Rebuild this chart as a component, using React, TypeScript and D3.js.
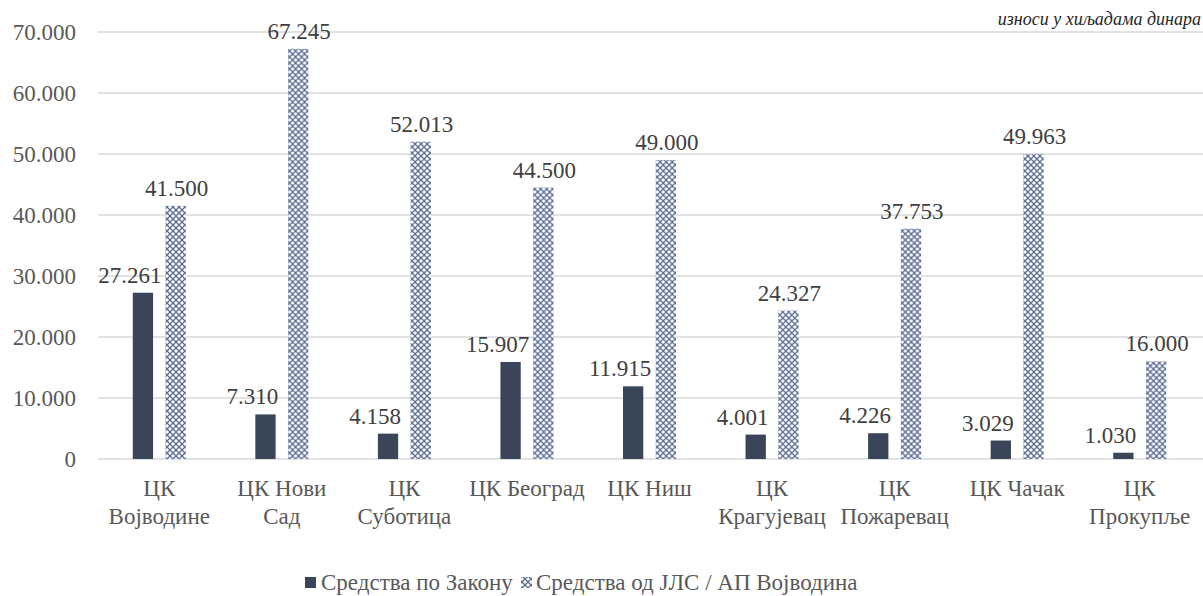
import React, { useRef, useEffect } from 'react';
import * as d3 from 'd3';

const categories = [
  ['ЦК', 'Војводине'],
  ['ЦК Нови', 'Сад'],
  ['ЦК', 'Суботица'],
  ['ЦК Београд'],
  ['ЦК Ниш'],
  ['ЦК', 'Крагујевац'],
  ['ЦК', 'Пожаревац'],
  ['ЦК Чачак'],
  ['ЦК', 'Прокупље'],
];
const poZakonu = [27261, 7310, 4158, 15907, 11915, 4001, 4226, 3029, 1030];
const odJls = [41500, 67245, 52013, 44500, 49000, 24327, 37753, 49963, 16000];
const seriesNames = ['Средства по Закону', 'Средства од ЈЛС / АП Војводина'];
const yTicks = [0, 10000, 20000, 30000, 40000, 50000, 60000, 70000];

const W = 1203;
const H = 596;
const margin = { top: 32, right: 2, bottom: 137, left: 98 };
const font = 'Liberation Serif, Times New Roman, serif';
const fs = 23;
const textColor = '#595959';
const dark = '#3B4559';
const patColor = '#5B6C96';

const fmt = (v: number) => d3.format(',')(v).replace(/,/g, '.');

const App = () => {
  const ref = useRef<SVGSVGElement>(null);

  useEffect(() => {
    if (!ref.current) return;
    const svg = d3.select(ref.current);
    svg.selectAll('*').remove();

    const defs = svg.append('defs');
    const pat = defs.append('pattern')
      .attr('id', 'diam')
      .attr('width', 6).attr('height', 6)
      .attr('patternUnits', 'userSpaceOnUse');
    pat.append('rect').attr('width', 6).attr('height', 6).attr('fill', '#ffffff');
    pat.append('path')
      .attr('d', 'M0,0 L6,6 M6,0 L0,6')
      .attr('stroke', patColor).attr('stroke-width', 1.3);

    const innerH = H - margin.top - margin.bottom;
    const y = d3.scaleLinear().domain([0, 70000]).range([margin.top + innerH, margin.top]);
    const keys = categories.map((_, i) => String(i));
    const x = d3.scaleBand().domain(keys).range([margin.left, W - margin.right]);
    const sub = d3.scaleBand().domain(['a', 'b']).range([x.bandwidth() / 2 - 26.5, x.bandwidth() / 2 + 26.5]).paddingInner(0.38);

    // grid
    svg.append('g').selectAll('line').data(yTicks).join('line')
      .attr('x1', margin.left).attr('x2', W)
      .attr('y1', d => y(d)).attr('y2', d => y(d))
      .attr('stroke', '#D9D9D9').attr('stroke-width', 1.3);

    svg.append('g').selectAll('text').data(yTicks).join('text')
      .attr('x', 76).attr('y', d => y(d) + 8)
      .attr('text-anchor', 'end')
      .style('font-family', font).attr('font-size', fs).attr('fill', textColor)
      .text(d => fmt(d));

    const groups = svg.append('g').selectAll('g').data(keys).join('g')
      .attr('transform', d => `translate(${x(d)},0)`);

    groups.append('rect')
      .attr('x', sub('a')!).attr('width', sub.bandwidth())
      .attr('y', (_, i) => y(poZakonu[i])).attr('height', (_, i) => y(0) - y(poZakonu[i]))
      .attr('fill', dark);
    groups.append('rect')
      .attr('x', sub('b')!).attr('width', sub.bandwidth())
      .attr('y', (_, i) => y(odJls[i])).attr('height', (_, i) => y(0) - y(odJls[i]))
      .attr('fill', 'url(#diam)');

    groups.append('text')
      .attr('x', sub('a')! + sub.bandwidth() / 2 - 13)
      .attr('y', (_, i) => y(poZakonu[i]) - 10)
      .attr('text-anchor', 'middle')
      .style('font-family', font).attr('font-size', fs).attr('fill', '#404040')
      .text((_, i) => fmt(poZakonu[i]));
    groups.append('text')
      .attr('x', sub('b')! + sub.bandwidth() / 2 + 1)
      .attr('y', (_, i) => y(odJls[i]) - 10)
      .attr('text-anchor', 'middle')
      .style('font-family', font).attr('font-size', fs).attr('fill', '#404040')
      .text((_, i) => fmt(odJls[i]));

    groups.append('text')
      .attr('text-anchor', 'middle')
      .style('font-family', font).attr('font-size', fs).attr('fill', textColor)
      .each(function (_, i) {
        const t = d3.select(this);
        categories[i].forEach((line, j) => {
          t.append('tspan').attr('x', x.bandwidth() / 2).attr('y', 496 + j * 28).text(line);
        });
      });

    // note
    svg.append('text')
      .attr('x', 1201).attr('y', 25)
      .attr('text-anchor', 'end')
      .style('font-family', font).attr('font-size', 18).attr('font-style', 'italic')
      .attr('fill', '#262626')
      .text('износи у хиљадама динара');

    // legend
    const lg = svg.append('g').style('font-family', font).attr('font-size', fs).attr('fill', textColor);
    lg.append('rect').attr('x', 305).attr('y', 577).attr('width', 11).attr('height', 11).attr('fill', dark);
    lg.append('text').attr('x', 321).attr('y', 590).text(seriesNames[0]);
    lg.append('rect').attr('x', 521).attr('y', 577).attr('width', 11).attr('height', 11).attr('fill', 'url(#diam)');
    lg.append('text').attr('x', 536).attr('y', 590).text(seriesNames[1]);
  }, []);

  return (
    <svg ref={ref} width={W} height={H} style={{ position: 'absolute', left: 0, top: 0, background: '#fff' }} />
  );
};

export default App;
